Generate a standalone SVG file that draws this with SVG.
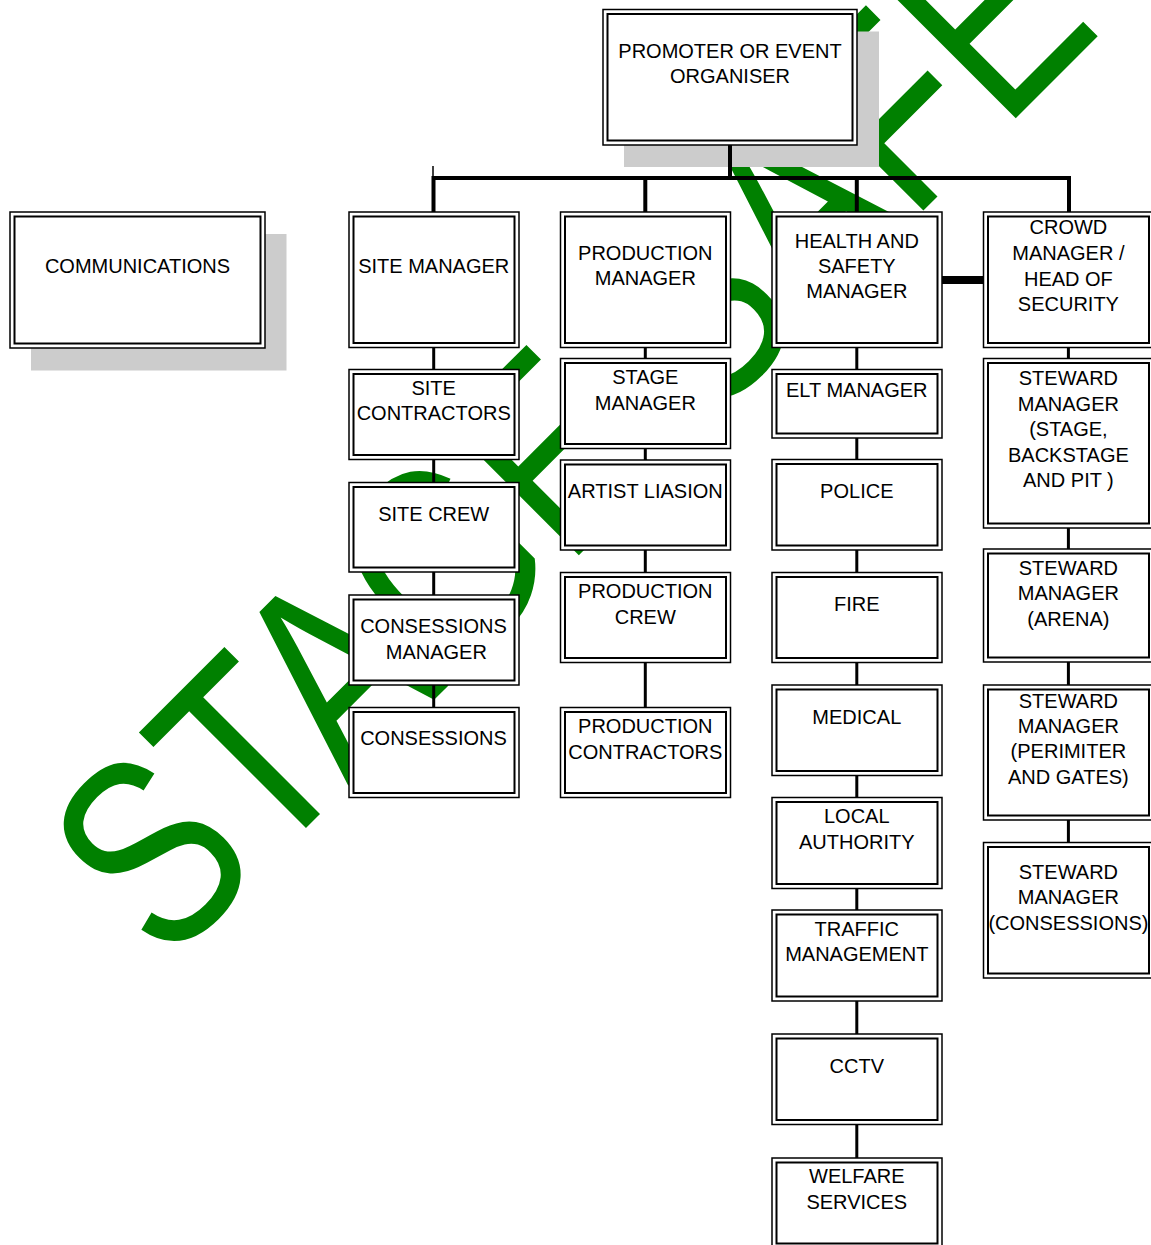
<svg xmlns="http://www.w3.org/2000/svg" width="1151" height="1245" viewBox="0 0 1151 1245">
<style>
.o{fill:#fff;stroke:#000;stroke-width:1.5}
.i{fill:none;stroke:#000;stroke-width:2}
.sh{fill:#cccccc}
text{font-family:"Liberation Sans",Arial,sans-serif;font-size:20px;fill:#000;text-anchor:middle}
.wm{font-size:270px;fill:#008000;text-anchor:start}
.c{stroke:#000;stroke-width:3;fill:none}
.b{stroke:#000;stroke-width:4;fill:none;stroke-linecap:round}
</style>
<rect width="1151" height="1245" fill="#fff"/>
<g id="watermark">
<text class="wm" transform="translate(166,968) rotate(-45) scale(0.792,1)">STAGE SAFE</text>
</g>
<g id="shadows">
<rect class="sh" x="624" y="31.5" width="255" height="135.5"/>
<rect class="sh" x="31" y="234" width="255.5" height="136.5"/>
</g>
<g id="connectors">
<line class="b" x1="730" y1="145" x2="730" y2="178"/>
<polyline class="b" points="433.5,212 433.5,178 1069,178 1069,212" stroke-linecap="butt" stroke-linejoin="miter"/>
<line x1="433" y1="166" x2="433" y2="178" stroke="#000" stroke-width="1.5"/>
<line class="b" x1="645.3" y1="178" x2="645.3" y2="212"/>
<line class="b" x1="856.8" y1="178" x2="856.8" y2="212"/>
<line x1="941" y1="280" x2="985" y2="280" stroke="#000" stroke-width="8" stroke-linecap="round"/>
<line class="c" x1="433.7" y1="347" x2="433.7" y2="370"/>
<line class="c" x1="433.7" y1="459" x2="433.7" y2="483"/>
<line class="c" x1="433.7" y1="572" x2="433.7" y2="595"/>
<line class="c" x1="433.7" y1="685" x2="433.7" y2="708"/>
<line class="c" x1="645.3" y1="347" x2="645.3" y2="359"/>
<line class="c" x1="645.3" y1="448" x2="645.3" y2="460"/>
<line class="c" x1="645.3" y1="550" x2="645.3" y2="573"/>
<line class="c" x1="645.3" y1="662" x2="645.3" y2="708"/>
<line class="c" x1="856.8" y1="347" x2="856.8" y2="370"/>
<line class="c" x1="856.8" y1="438" x2="856.8" y2="460"/>
<line class="c" x1="856.8" y1="550" x2="856.8" y2="573"/>
<line class="c" x1="856.8" y1="662" x2="856.8" y2="685"/>
<line class="c" x1="856.8" y1="775" x2="856.8" y2="798"/>
<line class="c" x1="856.8" y1="888" x2="856.8" y2="910"/>
<line class="c" x1="856.8" y1="1001" x2="856.8" y2="1034"/>
<line class="c" x1="856.8" y1="1124" x2="856.8" y2="1158"/>
<line class="c" x1="1068.4" y1="347" x2="1068.4" y2="359"/>
<line class="c" x1="1068.4" y1="528" x2="1068.4" y2="549"/>
<line class="c" x1="1068.4" y1="662" x2="1068.4" y2="685"/>
<line class="c" x1="1068.4" y1="820" x2="1068.4" y2="843"/>
</g>
<g id="promoter"><rect class="o" x="603" y="9.5" width="254" height="135.5"/><rect class="i" x="607.5" y="14" width="245" height="126.5"/><text x="730" y="57.5">PROMOTER OR EVENT</text><text x="730" y="83">ORGANISER</text></g>
<g id="communications"><rect class="o" x="10" y="212" width="255" height="136"/><rect class="i" x="14.5" y="216.5" width="246" height="127"/><text x="137.5" y="273.3">COMMUNICATIONS</text></g>

<g id="site-manager"><rect class="o" x="349" y="212" width="170" height="135.5"/><rect class="i" x="353.5" y="216.5" width="161" height="126.5"/><text x="433.7" y="273.3">SITE MANAGER</text></g>
<g id="site-contractors"><rect class="o" x="349" y="369.5" width="170" height="90"/><rect class="i" x="353.5" y="374" width="161" height="81"/><text x="433.7" y="395">SITE</text><text x="433.7" y="420.3">CONTRACTORS</text></g>
<g id="site-crew"><rect class="o" x="349" y="482.5" width="170" height="89.5"/><rect class="i" x="353.5" y="487" width="161" height="80.5"/><text x="433.7" y="520.7">SITE CREW</text></g>
<g id="consessions-manager"><rect class="o" x="349" y="595" width="170" height="90"/><rect class="i" x="353.5" y="599.5" width="161" height="81"/><text x="433.5" y="633.3">CONSESSIONS</text><text x="436.3" y="658.6">MANAGER</text></g>
<g id="consessions"><rect class="o" x="349" y="707.5" width="170" height="90"/><rect class="i" x="353.5" y="712" width="161" height="81"/><text x="433.5" y="745.3">CONSESSIONS</text></g>

<g id="production-manager"><rect class="o" x="560.5" y="212" width="170" height="135.5"/><rect class="i" x="565" y="216.5" width="161" height="126.5"/><text x="645.3" y="260">PRODUCTION</text><text x="645.3" y="285.3">MANAGER</text></g>
<g id="stage-manager"><rect class="o" x="560.5" y="358.5" width="170" height="90"/><rect class="i" x="565" y="363" width="161" height="81"/><text x="645.3" y="384.3">STAGE</text><text x="645.3" y="409.6">MANAGER</text></g>
<g id="artist-liasion"><rect class="o" x="560.5" y="460" width="170" height="90"/><rect class="i" x="565" y="464.5" width="161" height="81"/><text x="645.3" y="498.3">ARTIST LIASION</text></g>
<g id="production-crew"><rect class="o" x="560.5" y="572.5" width="170" height="90"/><rect class="i" x="565" y="577" width="161" height="81"/><text x="645.3" y="598.3">PRODUCTION</text><text x="645.3" y="623.6">CREW</text></g>
<g id="production-contractors"><rect class="o" x="560.5" y="707.5" width="170" height="90"/><rect class="i" x="565" y="712" width="161" height="81"/><text x="645.3" y="733.3">PRODUCTION</text><text x="645.3" y="758.6">CONTRACTORS</text></g>

<g id="health-safety"><rect class="o" x="772" y="212" width="170" height="135.5"/><rect class="i" x="776.5" y="216.5" width="161" height="126.5"/><text x="856.8" y="247.7">HEALTH AND</text><text x="856.8" y="273">SAFETY</text><text x="856.8" y="298.3">MANAGER</text></g>
<g id="elt-manager"><rect class="o" x="772" y="369.5" width="170" height="68.5"/><rect class="i" x="776.5" y="374" width="161" height="59.5"/><text x="856.8" y="396.7">ELT MANAGER</text></g>
<g id="police"><rect class="o" x="772" y="459.5" width="170" height="90.5"/><rect class="i" x="776.5" y="464" width="161" height="81.5"/><text x="856.8" y="498.3">POLICE</text></g>
<g id="fire"><rect class="o" x="772" y="572.5" width="170" height="90"/><rect class="i" x="776.5" y="577" width="161" height="81"/><text x="856.8" y="611.3">FIRE</text></g>
<g id="medical"><rect class="o" x="772" y="685" width="170" height="90.5"/><rect class="i" x="776.5" y="689.5" width="161" height="81.5"/><text x="856.8" y="724">MEDICAL</text></g>
<g id="local-authority"><rect class="o" x="772" y="797.5" width="170" height="91"/><rect class="i" x="776.5" y="802" width="161" height="82"/><text x="856.8" y="823.3">LOCAL</text><text x="856.8" y="848.8">AUTHORITY</text></g>
<g id="traffic-management"><rect class="o" x="772" y="910" width="170" height="91"/><rect class="i" x="776.5" y="914.5" width="161" height="82"/><text x="856.8" y="935.7">TRAFFIC</text><text x="856.8" y="961">MANAGEMENT</text></g>
<g id="cctv"><rect class="o" x="772" y="1034" width="170" height="90.5"/><rect class="i" x="776.5" y="1038.5" width="161" height="81.5"/><text x="856.8" y="1072.7">CCTV</text></g>
<g id="welfare-services"><rect class="o" x="772" y="1158" width="170" height="90"/><rect class="i" x="776.5" y="1162.5" width="161" height="81"/><text x="856.8" y="1183.3">WELFARE</text><text x="856.8" y="1208.6">SERVICES</text></g>

<g id="crowd-manager"><rect class="o" x="983.5" y="212" width="170" height="135.5"/><rect class="i" x="988" y="216.5" width="161" height="126.5"/><text x="1068.4" y="234.3">CROWD</text><text x="1068.4" y="260">MANAGER /</text><text x="1068.4" y="285.6">HEAD OF</text><text x="1068.4" y="311">SECURITY</text></g>
<g id="steward-stage"><rect class="o" x="983.5" y="358.5" width="170" height="169.5"/><rect class="i" x="988" y="363" width="161" height="160.5"/><text x="1068.4" y="385">STEWARD</text><text x="1068.4" y="410.5">MANAGER</text><text x="1068.4" y="436.2">(STAGE,</text><text x="1068.4" y="461.5">BACKSTAGE</text><text x="1068.4" y="486.8">AND PIT )</text></g>
<g id="steward-arena"><rect class="o" x="983.5" y="549" width="170" height="113"/><rect class="i" x="988" y="553.5" width="161" height="104"/><text x="1068.4" y="575">STEWARD</text><text x="1068.4" y="600.3">MANAGER</text><text x="1068.4" y="625.6">(ARENA)</text></g>
<g id="steward-perimeter"><rect class="o" x="983.5" y="685" width="170" height="135"/><rect class="i" x="988" y="689.5" width="161" height="126"/><text x="1068.4" y="707.5">STEWARD</text><text x="1068.4" y="733">MANAGER</text><text x="1068.4" y="758.3">(PERIMITER</text><text x="1068.4" y="783.6">AND GATES)</text></g>
<g id="steward-consessions"><rect class="o" x="983.5" y="842.5" width="170" height="135.5"/><rect class="i" x="988" y="847" width="161" height="126.5"/><text x="1068.4" y="879">STEWARD</text><text x="1068.4" y="904.3">MANAGER</text><text x="1068.4" y="929.8">(CONSESSIONS)</text></g>
</svg>
